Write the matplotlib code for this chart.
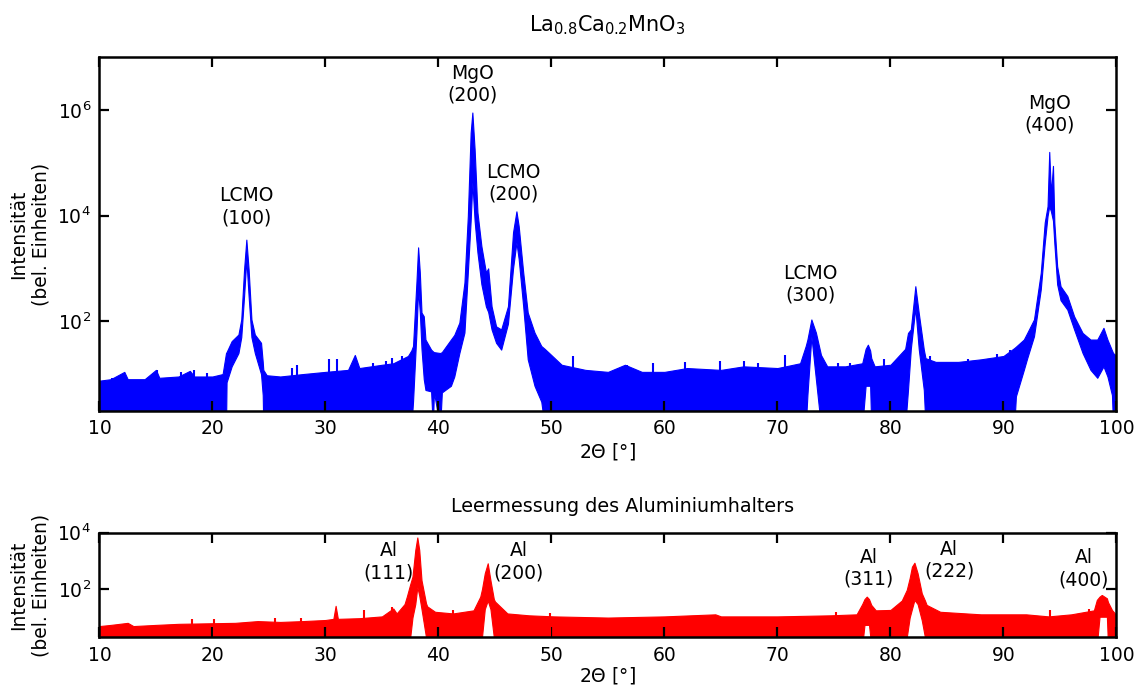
import matplotlib
matplotlib.use('Agg')
import matplotlib.pyplot as plt
from matplotlib.ticker import FixedLocator, NullLocator, LogFormatterMathtext

BLUE = '#0000ff'
RED = '#ff0000'

# LCMO sample scan: 2theta, upper and lower envelope of the noisy trace (1 = down to zero counts)
tt_top = [10.0, 11.0, 12.2, 12.5, 14.0, 15.0, 15.3, 17.0, 18.0, 18.4,
          20.0, 20.9, 21.2, 21.25, 21.7, 22.3, 22.55, 22.8, 23.0, 23.2,
          23.45, 23.75, 24.3, 24.45, 24.5, 24.8, 26.0, 28.0, 30.0, 32.0,
          32.6, 33.0, 35.0, 36.0, 37.3, 37.6, 37.75, 38.05, 38.2, 38.35,
          38.5, 38.7, 38.85, 39.35, 39.5, 39.6, 40.15, 40.3, 41.1, 41.4,
          41.85, 42.3, 42.6, 42.85, 43.0, 43.2, 43.45, 43.8, 44.2, 44.4,
          44.7, 45.1, 45.55, 46.15, 46.6, 46.9, 47.1, 47.5, 47.9, 48.5,
          49.1, 49.4, 49.8, 50.9, 53.0, 55.0, 56.5, 58.0, 60.0, 62.0,
          65.0, 67.0, 70.0, 72.0, 72.5, 72.65, 73.0, 73.4, 73.85, 74.4,
          76.0, 77.5, 77.8, 78.0, 78.2, 78.3, 78.6, 80.0, 81.3, 81.55,
          81.8, 82.2, 82.5, 82.95, 83.1, 84.0, 86.0, 88.0, 90.0, 90.95,
          91.1, 91.8, 92.1, 92.7, 93.3, 93.65, 93.9, 94.05, 94.2, 94.38,
          94.5, 94.75, 95.05, 95.65, 96.25, 97.0, 97.7, 98.3, 98.85, 99.2,
          99.6, 99.7, 100.0]
hi_top = [7.5, 8, 11, 8, 8, 12, 8.5, 9, 11.5, 9,
          9, 10, 25, 26, 42, 56, 108, 960, 3500, 960,
          108, 56, 39, 17, 12, 9.5, 9, 10, 11, 12,
          23, 13, 15, 16, 22, 28, 34, 540, 2500, 840,
          146, 124, 45, 29, 27, 26, 25, 26, 45, 55,
          94, 540, 9800, 3.7e5, 8.9e5, 1.8e5, 1.15e4, 2640, 840, 1000,
          192, 80, 70, 192, 4800, 1.2e4, 6300, 840, 146, 61,
          34, 30, 25, 15, 12, 11, 15, 11, 11, 13,
          12, 14, 13, 16, 34, 45, 108, 61, 23, 14,
          14, 16, 30, 36, 28, 20, 14, 15, 30, 60,
          70, 460, 144, 29, 20, 17, 17, 19, 22, 31,
          33, 45, 60, 108, 830, 7400, 1.5e4, 1.6e5, 2.5e4, 8.7e4,
          7400, 1100, 460, 300, 124, 60, 45, 45, 75, 45,
          28, 25, 22]
lo_top = [1, 1, 1, 1, 1, 1, 1, 1, 1, 1,
          1, 1, 1, 7, 14, 25, 50, 300, 1500, 300,
          50, 25, 10, 4, 1, 1, 1, 1, 1, 1,
          1, 1, 1, 1, 1, 1, 3, 60, 400, 150,
          30, 8, 5, 4.7, 1, 4.5, 1, 4.5, 6, 9,
          25, 61, 840, 8000, 4.3e4, 8000, 2000, 500, 190, 150,
          70, 39, 29, 90, 1000, 3100, 1500, 190, 19, 6,
          3, 1, 1, 1, 1, 1, 1, 1, 1, 1,
          1, 1, 1, 1, 1, 4, 52, 8, 1, 1,
          1, 1, 6, 6, 6, 1, 1, 1, 1, 5,
          30, 180, 30, 5, 1, 1, 1, 1, 1, 1,
          3.8, 12, 20, 52, 400, 3000, 9800, 1.5e4, 1.2e4, 8000,
          3000, 500, 250, 166, 70, 25, 12, 8.5, 14, 9,
          4, 1, 1]
# single noise spikes sticking out of the background
spike_x_top = [11.1, 15.1, 17.2, 18.4, 19.5, 27.0, 27.5, 30.3, 31.0, 34.2,
               35.4, 35.9, 36.75, 51.9, 56.7, 59.0, 61.8, 64.9, 67.0, 68.3,
               70.7, 75.4, 76.4, 79.4, 83.5, 86.9, 89.4, 90.6]
spike_y_top = [8.5, 12, 11, 12, 10.5, 13, 15, 19, 19, 16,
               18, 20, 22, 22, 15, 16.5, 17, 18, 18, 16.5,
               23, 16.5, 16.5, 19, 22, 19, 24, 29]

# empty aluminium holder scan
tt_bot = [10.0, 11.0, 12.5, 13.0, 15.0, 17.0, 20.0, 22.0, 24.0, 26.0,
          28.0, 30.0, 30.7, 30.9, 31.1, 33.0, 35.0, 36.0, 36.3, 37.0,
          37.2, 37.5, 37.7, 37.95, 38.13, 38.3, 38.5, 38.9, 39.0, 39.7,
          41.3, 43.1, 43.7, 43.85, 44.1, 44.36, 44.6, 44.9, 45.0, 46.1,
          48.0, 50.2, 55.0, 60.0, 64.5, 65.0, 70.0, 74.7, 77.0, 77.5,
          77.7, 77.9, 78.1, 78.3, 78.7, 80.0, 81.0, 81.44, 81.7, 81.9,
          82.12, 82.4, 82.77, 83.05, 83.2, 84.4, 88.0, 92.0, 94.0, 96.0,
          98.0, 98.26, 98.5, 98.7, 99.15, 99.25, 99.6, 100.0]
hi_bot = [5, 5.5, 6.5, 5, 5.5, 6, 6.3, 6.5, 7.5, 7,
          7.5, 8.2, 9, 26, 9, 9.5, 11, 21, 14, 30,
          55, 150, 280, 2450, 6800, 2450, 210, 32, 25, 16,
          14, 18, 55, 100, 370, 830, 210, 45, 37, 14,
          12, 11, 10, 11, 13, 11, 11, 12, 13, 30,
          45, 55, 45, 28, 18, 18.6, 40, 95, 250, 630,
          870, 370, 72, 40, 28, 16, 13, 13, 11, 13,
          18, 42, 55, 63, 48, 35, 18.6, 12]
lo_bot = [1, 1, 1, 1, 1, 1, 1, 1, 1, 1,
          1, 1, 1, 1, 1, 1, 1, 1, 1, 1,
          1, 2, 10, 30, 120, 60, 20, 2, 1, 1,
          1, 1, 1, 2, 20, 40, 20, 2, 1, 1,
          1, 1, 1, 1, 1, 1, 1, 1, 1, 1,
          5.5, 5.5, 5.5, 1, 1, 1, 1, 2, 10, 20,
          42, 30, 8, 2, 1, 1, 1, 1, 1, 1,
          1, 1, 10.7, 10.7, 10.7, 1, 1, 1]
spike_x_bot = [18.2, 20.1, 25.5, 27.8, 33.4, 35.9, 41.3, 45.7, 49.9, 75.2,
               80.3, 94.1, 97.6]
spike_y_bot = [9, 9, 9.5, 9.5, 18.6, 23, 19, 18, 14, 16,
               22, 18.6, 20]

# peak labels: text, 2theta, intensity (centre of the label)
top_labels = ['LCMO\n(100)', 'MgO\n(200)', 'LCMO\n(200)', 'LCMO\n(300)', 'MgO\n(400)']
top_lab_x = [23.0, 43.0, 46.65, 72.9, 94.05]
top_lab_y = [10**4.17, 10**6.48, 10**4.61, 10**2.70, 10**5.92]
bot_labels = ['Al\n(111)', 'Al\n(200)', 'Al\n(311)', 'Al\n(222)', 'Al\n(400)']
bot_lab_x = [35.6, 47.1, 78.05, 85.2, 97.1]
bot_lab_y = [10**2.975, 10**2.975, 10**2.74, 10**3.03, 10**2.72]

FS = 13.5
plt.rcParams['font.family'] = 'DejaVu Sans'
plt.rcParams['font.size'] = FS

fig = plt.figure(figsize=(11.43, 6.85), dpi=100)
ax1 = fig.add_axes([0.0870, 0.400, 0.8898, 0.5168])
ax2 = fig.add_axes([0.0870, 0.0696, 0.8898, 0.1527])


def style(ax, ylim, yticks, xpad):
    ax.set_yscale('log')
    ax.set_xlim(10, 100)
    ax.set_ylim(*ylim)
    ax.xaxis.set_major_locator(FixedLocator(range(10, 101, 10)))
    ax.yaxis.set_major_locator(FixedLocator(yticks))
    ax.yaxis.set_major_formatter(LogFormatterMathtext())
    ax.xaxis.set_minor_locator(NullLocator())
    ax.yaxis.set_minor_locator(NullLocator())
    ax.tick_params(which='major', direction='in', length=7, width=1.6,
                   top=True, right=True, labelsize=FS, pad=6)
    for s in ax.spines.values():
        s.set_linewidth(1.8)
    ax.set_xlabel(r'2$\Theta$ [°]', fontsize=FS, labelpad=xpad)
    ax.set_ylabel('Intensität\n(bel. Einheiten)', fontsize=FS)
    ax.yaxis.set_label_coords(-0.048, 0.5)


ax1.fill_between(tt_top, lo_top, hi_top, color=BLUE, lw=0.8, edgecolor=BLUE)
ax1.vlines(spike_x_top, 2, spike_y_top, color=BLUE, lw=1.5)
style(ax1, (2, 1e7), [1e2, 1e4, 1e6], 2)
for t, x, y in zip(top_labels, top_lab_x, top_lab_y):
    ax1.text(x, y, t, ha='center', va='center', fontsize=FS)

ax2.fill_between(tt_bot, lo_bot, hi_bot, color=RED, lw=0.8, edgecolor=RED)
ax2.vlines(spike_x_bot, 2, spike_y_bot, color=RED, lw=1.5)
style(ax2, (2, 1e4), [1e2, 1e4], 0)
for t, x, y in zip(bot_labels, bot_lab_x, bot_lab_y):
    ax2.text(x, y, t, ha='center', va='center', fontsize=FS)

fig.text(607 / 1143, 1 - 25 / 685, r'La$_{0.8}$Ca$_{0.2}$MnO$_3$',
         ha='center', va='center', fontsize=15)
fig.text(623 / 1143, 1 - 507 / 685, 'Leermessung des Aluminiumhalters',
         ha='center', va='center', fontsize=13.8)

fig.savefig('out.png', dpi=100)
